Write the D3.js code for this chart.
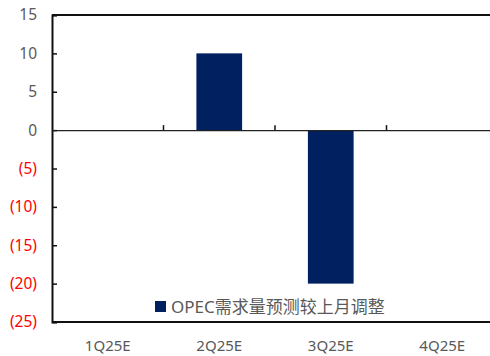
<!DOCTYPE html>
<html><head><meta charset="utf-8">
<script src="https://cdn.jsdelivr.net/npm/d3@7"></script>
<style>body{margin:0;background:#fff}svg{display:block}text{font-family:"Noto Sans","Noto Sans CJK SC",sans-serif}</style>
</head><body>
<script>
const categories = ["1Q25E","2Q25E","3Q25E","4Q25E"];
const values = [0, 10, -20, 0];
const yTicks = [15,10,5,0,-5,-10,-15,-20,-25];
const seriesName = "OPEC需求量预测较上月调整";

(function(){
const W=490,H=356;
const svg=d3.select("body").append("svg").attr("width",W).attr("height",H);
const pl=52, pr=498, pt=15, pb=322;
const x=d3.scaleBand().domain(categories).range([pl,pr]).padding(0);
const y=d3.scaleLinear().domain([-25,15]).range([pb,pt]);
const bw=x.bandwidth()*0.41;

svg.selectAll("rect.bar").data(values).enter().append("rect")
  .attr("x",(d,i)=>x(categories[i])+x.bandwidth()/2-bw/2)
  .attr("y",d=>y(Math.max(0,d)))
  .attr("width",bw)
  .attr("height",d=>Math.abs(y(d)-y(0)))
  .attr("fill","#002060");

svg.append("line").attr("x1",pl).attr("x2",pr).attr("y1",pt).attr("y2",pt).attr("stroke","#111").attr("stroke-width",2);
svg.append("line").attr("x1",pl).attr("x2",pr).attr("y1",pb).attr("y2",pb).attr("stroke","#111").attr("stroke-width",2);

const ya=svg.append("g").attr("transform",`translate(${pl},0)`)
  .call(d3.axisRight(y).tickValues(yTicks).tickSize(5).tickFormat(""));
ya.select(".domain").attr("stroke","#111").attr("stroke-width",2);
ya.selectAll(".tick line").attr("stroke","#111").attr("stroke-width",1.5);
svg.selectAll("text.ylab").data(yTicks).enter().append("text")
  .attr("x",37).attr("y",d=>y(d)).attr("dy","0.35em").attr("text-anchor","end")
  .attr("font-size",15.5)
  .attr("fill",d=>d<0?"#ff0000":"#595959")
  .text(d=>d<0?`(${-d})`:d);

const xa=svg.append("g").attr("transform",`translate(0,${y(0)})`)
  .call(d3.axisTop(x).tickValues([]).tickSizeOuter(0));
xa.select(".domain").attr("stroke","#222").attr("stroke-width",1.3);
const bounds=categories.slice(1).map(c=>x(c));
svg.selectAll("line.xt").data(bounds).enter().append("line")
  .attr("x1",d=>d).attr("x2",d=>d).attr("y1",y(0)).attr("y2",y(0)-5)
  .attr("stroke","#111").attr("stroke-width",1.5);

svg.selectAll("text.xlab").data(categories).enter().append("text")
  .attr("x",d=>x(d)+x.bandwidth()/2).attr("y",346).attr("dy","0.35em")
  .attr("text-anchor","middle").attr("font-size",15).attr("fill","#595959").text(d=>d);

svg.append("rect").attr("x",155).attr("y",301).attr("width",11).attr("height",11).attr("fill","#002060");
svg.append("text").attr("x",171).attr("y",307).attr("dy","0.35em").attr("font-size",17)
  .attr("fill","#595959").text(seriesName);
})();
</script>
</body></html>
